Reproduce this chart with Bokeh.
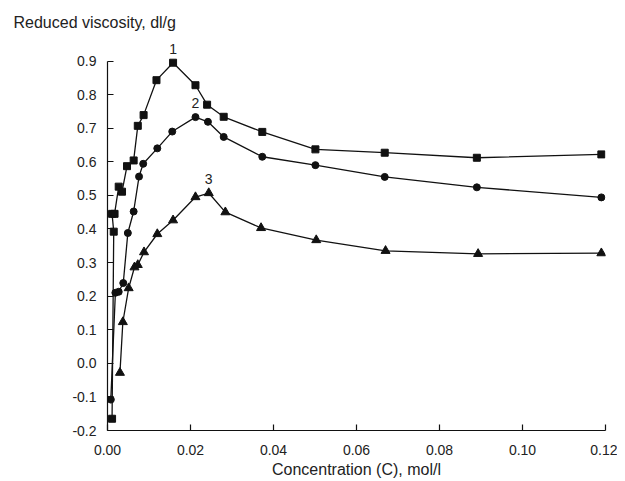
from bokeh.plotting import figure
from bokeh.models import FixedTicker, NumeralTickFormatter, Range1d, Label
from bokeh.embed import file_html
from bokeh.resources import INLINE

# ---- data ----
c1 = [0.0011, 0.0015, 0.0011, 0.0017, 0.0027, 0.0035, 0.0047, 0.0063, 0.0073, 0.0087,
      0.0118, 0.0158, 0.0212, 0.0240, 0.0280, 0.0373, 0.0501, 0.0668, 0.0890, 0.1190]
v1 = [-0.165, 0.392, 0.445, 0.445, 0.526, 0.511, 0.587, 0.604, 0.707, 0.739,
      0.843, 0.895, 0.828, 0.770, 0.734, 0.689, 0.637, 0.627, 0.612, 0.622]

c2 = [0.0008, 0.0019, 0.0027, 0.0038, 0.0049, 0.0063, 0.0076, 0.0086, 0.0120, 0.0156,
      0.0212, 0.0242, 0.0280, 0.0373, 0.0501, 0.0668, 0.0890, 0.1190]
v2 = [-0.108, 0.210, 0.213, 0.239, 0.388, 0.452, 0.556, 0.594, 0.640, 0.690,
      0.733, 0.719, 0.674, 0.615, 0.590, 0.555, 0.524, 0.494]

c3 = [0.0030, 0.0037, 0.0051, 0.0065, 0.0073, 0.0088, 0.0120, 0.0158, 0.0212, 0.0244,
      0.0284, 0.0370, 0.0503, 0.0670, 0.0893, 0.1190]
v3 = [-0.028, 0.123, 0.224, 0.286, 0.293, 0.331, 0.385, 0.426, 0.495, 0.507,
      0.450, 0.403, 0.367, 0.335, 0.326, 0.328]

series_labels = ["1", "2", "3"]
x_ticks = [0.00, 0.02, 0.04, 0.06, 0.08, 0.10, 0.12]
y_ticks = [-0.2, -0.1, 0.0, 0.1, 0.2, 0.3, 0.4, 0.5, 0.6, 0.7, 0.8, 0.9]

x_title = "Concentration (C), mol/l"
y_title = "Reduced viscosity, dl/g"

FONT = "Liberation Sans"
INK = "#111111"
TXT = "#222222"

# y range extends a little above 0.9 so the series numbers have room;
# the axis itself is bounded to -0.2 .. 0.9
p = figure(width=617, height=481, output_backend="svg", toolbar_location=None,
           x_range=Range1d(0, 0.12), y_range=Range1d(-0.2, 0.976),
           min_border_left=107, min_border_right=12, min_border_top=35, min_border_bottom=51)
p.background_fill_color = "white"
p.border_fill_color = "white"
p.outline_line_color = None
p.xgrid.visible = False
p.ygrid.visible = False

# title used as the horizontal y-axis caption at top-left
p.title.text = y_title
p.title.align = "left"
p.title.offset = -94
p.title.text_font = FONT
p.title.text_font_style = "normal"
p.title.text_font_size = "16px"
p.title.text_color = TXT

for ax in (p.xaxis[0], p.yaxis[0]):
    ax.axis_line_color = INK
    ax.axis_line_width = 1.2
    ax.major_tick_line_color = INK
    ax.major_tick_line_width = 1.2
    ax.major_tick_in = 6
    ax.major_tick_out = 0
    ax.minor_tick_line_color = None
    ax.major_label_text_font = FONT
    ax.major_label_text_font_size = "14px"
    ax.major_label_text_color = TXT

p.xaxis.ticker = FixedTicker(ticks=x_ticks)
p.xaxis.formatter = NumeralTickFormatter(format="0.00")
p.xaxis.major_label_standoff = 14
p.xaxis.axis_label = x_title
p.xaxis.axis_label_text_font = FONT
p.xaxis.axis_label_text_font_style = "normal"
p.xaxis.axis_label_text_font_size = "16px"
p.xaxis.axis_label_text_color = TXT
p.xaxis.axis_label_standoff = 3

p.yaxis.ticker = FixedTicker(ticks=y_ticks)
p.yaxis.bounds = (y_ticks[0], y_ticks[-1])
p.yaxis.formatter = NumeralTickFormatter(format="0.0")
p.yaxis.major_label_standoff = 11

# curves
p.line(c1, v1, line_color=INK, line_width=1.3)
p.line(c2, v2, line_color=INK, line_width=1.3)
p.line(c3, v3, line_color=INK, line_width=1.3)

p.scatter(c1, v1, marker="square", size=7, fill_color=INK, line_color=INK)
p.scatter(c2, v2, marker="circle", size=7, fill_color=INK, line_color=INK)
p.scatter(c3, v3, marker="triangle", size=9, fill_color=INK, line_color=INK)

# series numbers above each peak
for lab, cs, vs in zip(series_labels, (c1, c2, c3), (v1, v2, v3)):
    i = vs.index(max(vs))
    p.add_layout(Label(x=cs[i], y=vs[i], text=lab, text_align="center",
                       text_baseline="bottom", y_offset=9, text_font=FONT,
                       text_font_size="14px", text_color=TXT))

open("out.html", "w").write(file_html(p, INLINE))
